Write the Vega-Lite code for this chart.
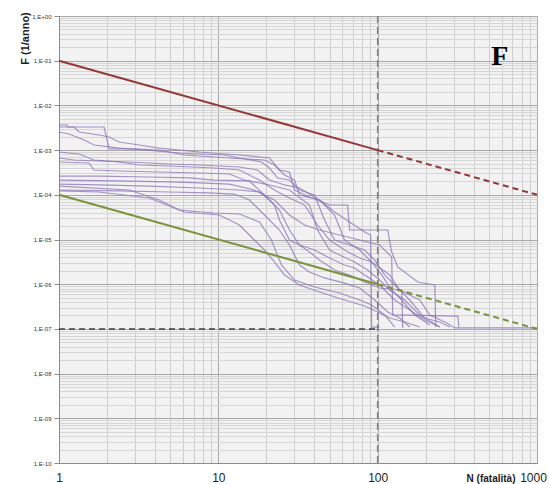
{
  "$schema": "https://vega.github.io/schema/vega-lite/v6.json",
  "width": 478,
  "height": 447,
  "autosize": "none",
  "padding": {"left": 59, "top": 16, "right": 12, "bottom": 21},
  "background": "#ffffff",
  "config": {"view": {"fill": "#f2f2f2", "stroke": "#a0a0a0"}},
  "datasets": {
    "curves": [
      {"c":1,"N":1,"F":3.64e-3},{"c":1,"N":1.123,"F":3.64e-3},{"c":1,"N":1.139,"F":3.29e-3},{"c":1,"N":1.919,"F":3.29e-3},{"c":1,"N":2.063,"F":1.06e-3},{"c":1,"N":2.963,"F":1.06e-3},{"c":1,"N":4.256,"F":1.005e-3},{"c":1,"N":6.112,"F":7.77e-4},{"c":1,"N":11.73,"F":6.66e-4},{"c":1,"N":19.47,"F":6.0e-4},{"c":1,"N":22.5,"F":4.64e-4},{"c":1,"N":26.01,"F":2.77e-4},{"c":1,"N":30.06,"F":2.14e-4},{"c":1,"N":32.31,"F":9.9e-5},{"c":1,"N":43.17,"F":7.65e-5},{"c":1,"N":53.65,"F":3.53e-5},{"c":1,"N":62.01,"F":9.74e-6},{"c":1,"N":77.05,"F":5.82e-6},{"c":1,"N":91.69,"F":3.14e-6},{"c":1,"N":119.0,"F":1.61e-6},{"c":1,"N":137.5,"F":7.42e-7},{"c":1,"N":183.8,"F":4.43e-7},{"c":1,"N":212.3,"F":2.05e-7},{"c":1,"N":263.9,"F":1.43e-7},{"c":1,"N":305.0,"F":1.05e-7},{"c":1,"N":1000,"F":1.05e-7},
      {"c":2,"N":1,"F":3.29e-3},{"c":2,"N":1.243,"F":3.29e-3},{"c":2,"N":1.336,"F":2.54e-3},{"c":2,"N":1.785,"F":2.18e-3},{"c":2,"N":2.063,"F":1.96e-3},{"c":2,"N":2.385,"F":1.52e-3},{"c":2,"N":3.185,"F":1.3e-3},{"c":2,"N":4.256,"F":1.11e-3},{"c":2,"N":7.594,"F":9.07e-4},{"c":2,"N":13.56,"F":7.77e-4},{"c":2,"N":20.94,"F":6.66e-4},{"c":2,"N":24.19,"F":3.59e-4},{"c":2,"N":27.96,"F":3.24e-4},{"c":2,"N":30.06,"F":1.28e-4},{"c":2,"N":37.35,"F":8.93e-5},{"c":2,"N":49.9,"F":5.91e-5},{"c":2,"N":64.75,"F":5.91e-5},{"c":2,"N":66.67,"F":1.63e-5},{"c":2,"N":115.6,"F":1.63e-5},{"c":2,"N":122.5,"F":5.25e-6},{"c":2,"N":133.6,"F":2.43e-6},{"c":2,"N":178.5,"F":1.12e-6},{"c":2,"N":228.3,"F":9.6e-7},{"c":2,"N":231.7,"F":1.1e-7},
      {"c":3,"N":1,"F":2.54e-3},{"c":3,"N":1.156,"F":2.29e-3},{"c":3,"N":1.436,"F":1.68e-3},{"c":3,"N":1.66,"F":1.3e-3},{"c":3,"N":2.385,"F":1.11e-3},{"c":3,"N":3.424,"F":1.005e-3},{"c":3,"N":5.685,"F":8.61e-4},{"c":3,"N":10.91,"F":7.77e-4},{"c":3,"N":13.56,"F":6.66e-4},{"c":3,"N":18.64,"F":5.42e-4},{"c":3,"N":20.94,"F":3.98e-4},{"c":3,"N":23.5,"F":2.38e-4},{"c":3,"N":27.96,"F":2.14e-4},{"c":3,"N":32.31,"F":1.28e-4},{"c":3,"N":40.16,"F":9.9e-5},{"c":3,"N":46.42,"F":2.73e-5},{"c":3,"N":53.65,"F":9.74e-6},{"c":3,"N":66.67,"F":7.53e-6},{"c":3,"N":82.84,"F":5.82e-6},{"c":3,"N":95.74,"F":3.48e-6},{"c":3,"N":110.7,"F":1.61e-6},{"c":3,"N":127.9,"F":9.6e-7},{"c":3,"N":158.9,"F":4.43e-7},{"c":3,"N":197.6,"F":1.75e-7},{"c":3,"N":245.4,"F":1.43e-7},{"c":3,"N":283.7,"F":1.1e-7},
      {"c":4,"N":1,"F":9.07e-4},{"c":4,"N":1.336,"F":8.18e-4},{"c":4,"N":1.66,"F":6.0e-4},{"c":4,"N":2.385,"F":5.42e-4},{"c":4,"N":3.185,"F":4.64e-4},{"c":4,"N":4.918,"F":4.41e-4},{"c":4,"N":9.437,"F":3.98e-4},{"c":4,"N":13.56,"F":3.59e-4},{"c":4,"N":18.11,"F":2.14e-4},{"c":4,"N":22.5,"F":1.28e-4},{"c":4,"N":27.96,"F":8.48e-5},{"c":4,"N":34.74,"F":5.91e-5},{"c":4,"N":41.94,"F":2.11e-5},{"c":4,"N":49.9,"F":9.74e-6},{"c":4,"N":62.01,"F":5.82e-6},{"c":4,"N":77.05,"F":3.86e-6},{"c":4,"N":91.69,"F":3.14e-6},{"c":4,"N":106.0,"F":1.61e-6},{"c":4,"N":122.5,"F":7.42e-7},{"c":4,"N":141.6,"F":4.43e-7},{"c":4,"N":170.9,"F":2.05e-7},{"c":4,"N":212.3,"F":1.22e-7},
      {"c":5,"N":1,"F":6.66e-4},{"c":5,"N":1.243,"F":6.0e-4},{"c":5,"N":1.785,"F":5.71e-4},{"c":5,"N":2.756,"F":5.42e-4},{"c":5,"N":4.918,"F":4.89e-4},{"c":5,"N":7.594,"F":4.64e-4},{"c":5,"N":13.56,"F":4.19e-4},{"c":5,"N":17.59,"F":3.59e-4},{"c":5,"N":20.94,"F":2.14e-4},{"c":5,"N":26.01,"F":1.66e-4},{"c":5,"N":32.31,"F":1.42e-4},{"c":5,"N":43.17,"F":7.65e-5},{"c":5,"N":53.65,"F":4.12e-5},{"c":5,"N":66.67,"F":2.46e-5},{"c":5,"N":82.84,"F":1.47e-5},{"c":5,"N":90.36,"F":1.26e-5},{"c":5,"N":91.69,"F":1.1e-7},{"c":5,"N":102.9,"F":1.1e-7},
      {"c":6,"N":1,"F":5.42e-4},{"c":6,"N":1.544,"F":5.14e-4},{"c":6,"N":1.66,"F":3.59e-4},{"c":6,"N":2.385,"F":3.41e-4},{"c":6,"N":4.256,"F":3.24e-4},{"c":6,"N":7.594,"F":3.07e-4},{"c":6,"N":11.73,"F":2.92e-4},{"c":6,"N":14.57,"F":2.14e-4},{"c":6,"N":20.94,"F":1.66e-4},{"c":6,"N":27.96,"F":1.28e-4},{"c":6,"N":37.35,"F":5.91e-5},{"c":6,"N":41.94,"F":1.63e-5},{"c":6,"N":49.9,"F":5.82e-6},{"c":6,"N":57.68,"F":4.5e-6},{"c":6,"N":71.67,"F":3.14e-6},{"c":6,"N":86.52,"F":2.08e-6},{"c":6,"N":102.9,"F":1.24e-6},{"c":6,"N":119.0,"F":7.42e-7},{"c":6,"N":147.8,"F":4.43e-7},{"c":6,"N":183.8,"F":2.05e-7},{"c":6,"N":245.4,"F":1.1e-7},
      {"c":7,"N":1,"F":2.63e-4},{"c":7,"N":1.785,"F":2.63e-4},{"c":7,"N":3.681,"F":2.5e-4},{"c":7,"N":6.571,"F":2.38e-4},{"c":7,"N":9.437,"F":2.14e-4},{"c":7,"N":15.67,"F":2.04e-4},{"c":7,"N":19.47,"F":9.9e-5},{"c":7,"N":24.19,"F":4.57e-5},{"c":7,"N":27.96,"F":1.63e-5},{"c":7,"N":32.31,"F":7.53e-6},{"c":7,"N":37.35,"F":5.25e-6},{"c":7,"N":43.17,"F":3.48e-6},{"c":7,"N":53.65,"F":2.08e-6},{"c":7,"N":66.67,"F":1.61e-6},{"c":7,"N":82.84,"F":1.12e-6},{"c":7,"N":102.9,"F":8.22e-7},{"c":7,"N":141.6,"F":7.42e-7},{"c":7,"N":143.6,"F":1.05e-7},
      {"c":8,"N":1,"F":2.14e-4},{"c":8,"N":2.385,"F":2.04e-4},{"c":8,"N":5.685,"F":1.93e-4},{"c":8,"N":11.73,"F":1.74e-4},{"c":8,"N":16.84,"F":1.28e-4},{"c":8,"N":22.5,"F":7.65e-5},{"c":8,"N":27.96,"F":3.53e-5},{"c":8,"N":34.74,"F":2.11e-5},{"c":8,"N":43.17,"F":1.63e-5},{"c":8,"N":57.68,"F":1.26e-5},{"c":8,"N":77.05,"F":9.74e-6},{"c":8,"N":102.9,"F":7.53e-6},{"c":8,"N":122.5,"F":4.06e-6},{"c":8,"N":124.3,"F":2.05e-7},{"c":8,"N":318.5,"F":1.94e-7},{"c":8,"N":323.2,"F":1.1e-7},
      {"c":9,"N":1,"F":1.74e-4},{"c":9,"N":1.785,"F":1.66e-4},{"c":9,"N":3.681,"F":1.57e-4},{"c":9,"N":7.594,"F":1.42e-4},{"c":9,"N":13.56,"F":1.28e-4},{"c":9,"N":18.11,"F":1.155e-4},{"c":9,"N":20.94,"F":7.65e-5},{"c":9,"N":22.5,"F":5.91e-5},{"c":9,"N":24.19,"F":2.73e-5},{"c":9,"N":27.96,"F":9.74e-6},{"c":9,"N":32.31,"F":7.53e-6},{"c":9,"N":40.16,"F":5.82e-6},{"c":9,"N":49.9,"F":3.86e-6},{"c":9,"N":62.01,"F":2.69e-6},{"c":9,"N":71.67,"F":2.3e-6},{"c":9,"N":82.84,"F":1.61e-6},{"c":9,"N":102.9,"F":9.6e-7},{"c":9,"N":127.9,"F":4.43e-7},{"c":9,"N":158.9,"F":2.65e-7},{"c":9,"N":197.6,"F":1.58e-7},{"c":9,"N":245.4,"F":1.1e-7},
      {"c":10,"N":1,"F":1.28e-4},{"c":10,"N":2.385,"F":1.22e-4},{"c":10,"N":4.918,"F":1.155e-4},{"c":10,"N":8.778,"F":1.1e-4},{"c":10,"N":12.61,"F":1.04e-4},{"c":10,"N":15.67,"F":7.65e-5},{"c":10,"N":19.47,"F":3.53e-5},{"c":10,"N":24.19,"F":1.63e-5},{"c":10,"N":27.96,"F":7.53e-6},{"c":10,"N":32.31,"F":2.69e-6},{"c":10,"N":37.35,"F":1.87e-6},{"c":10,"N":46.42,"F":1.38e-6},{"c":10,"N":62.01,"F":1.06e-6},{"c":10,"N":77.05,"F":8.22e-7},{"c":10,"N":95.74,"F":4.43e-7},{"c":10,"N":115.6,"F":2.39e-7},{"c":10,"N":137.5,"F":1.75e-7},{"c":10,"N":158.9,"F":1.1e-7},
      {"c":11,"N":1,"F":1.22e-4},{"c":11,"N":1.785,"F":1.155e-4},{"c":11,"N":3.681,"F":8.48e-5},{"c":11,"N":6.112,"F":4.12e-5},{"c":11,"N":10.15,"F":3.53e-5},{"c":11,"N":13.56,"F":2.11e-5},{"c":11,"N":16.84,"F":9.74e-6},{"c":11,"N":19.47,"F":5.82e-6},{"c":11,"N":22.5,"F":3.14e-6},{"c":11,"N":26.01,"F":1.61e-6},{"c":11,"N":32.31,"F":9.6e-7},{"c":11,"N":43.17,"F":6.69e-7},{"c":11,"N":62.01,"F":4.43e-7},{"c":11,"N":82.84,"F":3.25e-7},{"c":11,"N":100,"F":2.39e-7},{"c":11,"N":119.0,"F":1.75e-7},{"c":11,"N":147.8,"F":1.43e-7},{"c":11,"N":183.8,"F":1.1e-7},
      {"c":12,"N":1,"F":1.57e-4},{"c":12,"N":2.756,"F":1.28e-4},{"c":12,"N":4.256,"F":7.65e-5},{"c":12,"N":5.685,"F":4.57e-5},{"c":12,"N":9.437,"F":3.92e-5},{"c":12,"N":13.56,"F":3.72e-5},{"c":12,"N":18.11,"F":2.46e-5},{"c":12,"N":21.54,"F":9.74e-6},{"c":12,"N":24.9,"F":2.69e-6},{"c":12,"N":30.06,"F":1.24e-6},{"c":12,"N":40.16,"F":8.66e-7},{"c":12,"N":57.68,"F":6.36e-7},{"c":12,"N":77.05,"F":4.43e-7},{"c":12,"N":91.69,"F":3.42e-7},{"c":12,"N":110.7,"F":2.05e-7},{"c":12,"N":127.9,"F":1.1e-7}
    ],
    "refs": [
      {"seg":"red_s","N":1,"F":0.1},{"seg":"red_s","N":100,"F":0.001},
      {"seg":"red_d","N":100,"F":0.001},{"seg":"red_d","N":1000,"F":0.0001},
      {"seg":"green_s","N":1,"F":1e-4},{"seg":"green_s","N":100,"F":1e-6},
      {"seg":"green_d","N":100,"F":1e-6},{"seg":"green_d","N":1000,"F":1e-7},
      {"seg":"black_d","N":1,"F":1e-7},{"seg":"black_d","N":100,"F":1e-7},
      {"seg":"vline","N":100,"F":1},{"seg":"vline","N":100,"F":1e-10}
    ]
  },
  "layer": [
    {
      "data": {"name": "curves"},
      "mark": {"type": "line", "color": "#8a72b8", "strokeWidth": 1.2, "opacity": 0.75},
      "encoding": {
        "x": {"field": "N", "type": "quantitative", "scale": {"type": "log", "domain": [1, 1000], "nice": false},
          "axis": {"orient": "bottom", "values": [2,3,4,5,6,7,8,9,20,30,40,50,60,70,80,90,200,300,400,500,600,700,800,900], "grid": true, "gridColor": "#cfcfcf", "labels": false, "ticks": false, "domain": false, "title": null}},
        "y": {"field": "F", "type": "quantitative", "scale": {"type": "log", "domain": [1e-10, 1], "nice": false},
          "axis": {"orient": "left", "values": [0.2,0.3,0.4,0.5,0.6,0.7,0.8,0.9,0.02,0.03,0.04,0.05,0.06,0.07,0.08,0.09,0.002,0.003,0.004,0.005,0.006,0.007,0.008,0.009,2e-4,3e-4,4e-4,5e-4,6e-4,7e-4,8e-4,9e-4,2e-5,3e-5,4e-5,5e-5,6e-5,7e-5,8e-5,9e-5,2e-6,3e-6,4e-6,5e-6,6e-6,7e-6,8e-6,9e-6,2e-7,3e-7,4e-7,5e-7,6e-7,7e-7,8e-7,9e-7,2e-8,3e-8,4e-8,5e-8,6e-8,7e-8,8e-8,9e-8,2e-9,3e-9,4e-9,5e-9,6e-9,7e-9,8e-9,9e-9,2e-10,3e-10,4e-10,5e-10,6e-10,7e-10,8e-10,9e-10], "grid": true, "gridColor": "#d6d6d6", "labels": false, "ticks": false, "domain": false, "title": null}},
        "detail": {"field": "c", "type": "nominal"}
      }
    },
    {
      "data": {"name": "refs"},
      "transform": [{"filter": "datum.seg == 'vline'"}],
      "mark": {"type": "line", "color": "#7f7f7f", "strokeWidth": 1.5, "strokeDash": [7, 4]},
      "encoding": {
        "x": {"field": "N", "type": "quantitative", "axis": null},
        "y": {"field": "F", "type": "quantitative", "axis": null}
      }
    },
    {
      "data": {"name": "refs"},
      "transform": [{"filter": "datum.seg == 'black_d'"}],
      "mark": {"type": "line", "color": "#3f3f3f", "strokeWidth": 1.5, "strokeDash": [6, 4]},
      "encoding": {
        "x": {"field": "N", "type": "quantitative", "axis": null},
        "y": {"field": "F", "type": "quantitative", "axis": null}
      }
    },
    {
      "data": {"name": "refs"},
      "transform": [{"filter": "datum.seg == 'red_s'"}],
      "mark": {"type": "line", "color": "#953735", "strokeWidth": 2},
      "encoding": {
        "x": {"field": "N", "type": "quantitative",
          "axis": {"orient": "bottom", "values": [1, 10, 100, 1000], "grid": true, "gridColor": "#a8a8a8", "domainColor": "#8c8c8c", "ticks": false, "labelFont": "Liberation Sans", "labelFontSize": 12, "labelColor": "#222222", "labelPadding": 9, "labelFlush": false, "labelOverlap": false, "format": "d",
            "labelOffset": {"condition": {"test": "datum.value >= 1000", "value": -4}, "value": 0},
            "title": "N (fatalità)", "titleFont": "Liberation Sans", "titleFontSize": 10, "titleFontWeight": "bold", "titleColor": "#222222", "titleX": 456, "titleY": 15, "titleAlign": "right", "titleBaseline": "middle", "titleAngle": 0}},
        "y": {"field": "F", "type": "quantitative",
          "axis": {"orient": "left", "values": [1, 0.1, 0.01, 0.001, 1e-4, 1e-5, 1e-6, 1e-7, 1e-8, 1e-9, 1e-10], "grid": true, "gridColor": "#a8a8a8", "domainColor": "#8c8c8c", "tickColor": "#8c8c8c", "tickSize": 5, "labelFont": "Liberation Sans", "labelFontSize": 6, "labelColor": "#333333", "labelPadding": 3, "labelOverlap": false,
            "labelExpr": "datum.value >= 1 ? '1,E+00' : '1,E-' + pad(format(-round(log(datum.value) / LN10), 'd'), 2, '0', 'left')",
            "title": "F (1/anno)", "titleFont": "Liberation Sans", "titleFontSize": 11, "titleFontWeight": "bold", "titleColor": "#222222", "titleX": -34, "titleY": 22, "titleAlign": "center", "titleBaseline": "middle", "titleAngle": -90}}
      }
    },
    {
      "data": {"name": "refs"},
      "transform": [{"filter": "datum.seg == 'red_d'"}],
      "mark": {"type": "line", "color": "#953735", "strokeWidth": 2, "strokeDash": [6, 4]},
      "encoding": {
        "x": {"field": "N", "type": "quantitative", "axis": null},
        "y": {"field": "F", "type": "quantitative", "axis": null}
      }
    },
    {
      "data": {"name": "refs"},
      "transform": [{"filter": "datum.seg == 'green_s'"}],
      "mark": {"type": "line", "color": "#77933c", "strokeWidth": 2},
      "encoding": {
        "x": {"field": "N", "type": "quantitative", "axis": null},
        "y": {"field": "F", "type": "quantitative", "axis": null}
      }
    },
    {
      "data": {"name": "refs"},
      "transform": [{"filter": "datum.seg == 'green_d'"}],
      "mark": {"type": "line", "color": "#77933c", "strokeWidth": 2, "strokeDash": [6, 4]},
      "encoding": {
        "x": {"field": "N", "type": "quantitative", "axis": null},
        "y": {"field": "F", "type": "quantitative", "axis": null}
      }
    },
    {
      "data": {"values": [{"t": "F", "N": 585, "F": 0.08}]},
      "mark": {"type": "text", "font": "Liberation Serif", "fontWeight": "bold", "fontSize": 28, "color": "#000000", "align": "center", "baseline": "alphabetic"},
      "encoding": {
        "x": {"field": "N", "type": "quantitative", "axis": null},
        "y": {"field": "F", "type": "quantitative", "axis": null},
        "text": {"field": "t"}
      }
    }
  ],
  "resolve": {"axis": {"x": "independent", "y": "independent"}}
}
